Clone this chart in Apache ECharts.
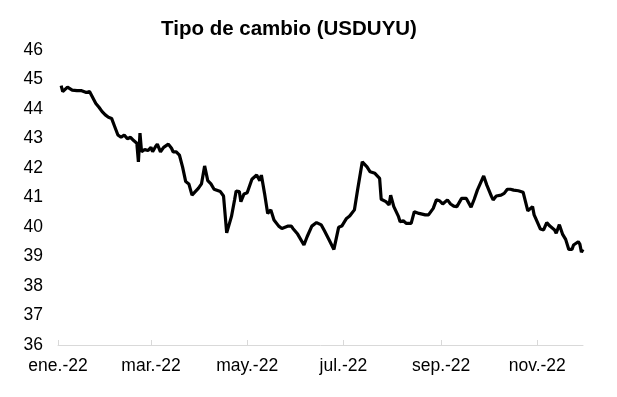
<!DOCTYPE html>
<html>
<head>
<meta charset="utf-8">
<script src="https://cdn.jsdelivr.net/npm/echarts@6/dist/echarts.min.js"></script>
<style>html,body{margin:0;padding:0;background:#fff}#c{width:617px;height:397px}</style>
</head>
<body>
<div id="c"></div>
<script>
const dates = [
'2022-01-03','2022-01-04','2022-01-07','2022-01-10','2022-01-13','2022-01-16','2022-01-17','2022-01-19','2022-01-21','2022-01-22',
'2022-01-25','2022-01-27','2022-01-29','2022-01-31','2022-02-02','2022-02-04','2022-02-06','2022-02-08','2022-02-10','2022-02-12',
'2022-02-14','2022-02-16','2022-02-18','2022-02-20','2022-02-21','2022-02-22','2022-02-23','2022-02-25','2022-02-27','2022-03-01',
'2022-03-02','2022-03-04','2022-03-05','2022-03-07','2022-03-09','2022-03-12','2022-03-14','2022-03-15','2022-03-17','2022-03-19',
'2022-03-21','2022-03-23','2022-03-25','2022-03-27','2022-03-31','2022-04-02','2022-04-04','2022-04-06','2022-04-08','2022-04-10',
'2022-04-14','2022-04-16','2022-04-18','2022-04-21','2022-04-23','2022-04-24','2022-04-26','2022-04-27','2022-04-29','2022-05-01',
'2022-05-04','2022-05-07','2022-05-09','2022-05-10','2022-05-12','2022-05-14','2022-05-16','2022-05-18','2022-05-21','2022-05-23',
'2022-05-25','2022-05-27','2022-05-29','2022-05-30','2022-06-02','2022-06-06','2022-06-08','2022-06-11','2022-06-12','2022-06-14',
'2022-06-17','2022-06-19','2022-06-22','2022-06-25','2022-06-28','2022-06-30','2022-07-03','2022-07-05','2022-07-08','2022-07-10',
'2022-07-13','2022-07-16','2022-07-18','2022-07-21','2022-07-24','2022-07-25','2022-07-28','2022-07-30','2022-07-31','2022-08-02',
'2022-08-05','2022-08-06','2022-08-08','2022-08-10','2022-08-13','2022-08-15','2022-08-18','2022-08-22','2022-08-24','2022-08-27',
'2022-08-29','2022-08-31','2022-09-02','2022-09-05','2022-09-07','2022-09-09','2022-09-11','2022-09-14','2022-09-17','2022-09-18',
'2022-09-20','2022-09-22','2022-09-24','2022-09-25','2022-09-28','2022-09-30','2022-10-03','2022-10-04','2022-10-06','2022-10-09',
'2022-10-11','2022-10-13','2022-10-15','2022-10-17','2022-10-20','2022-10-23','2022-10-26','2022-10-27','2022-10-29','2022-10-30',
'2022-10-31','2022-11-03','2022-11-05','2022-11-07','2022-11-09','2022-11-12','2022-11-13','2022-11-15','2022-11-17','2022-11-19',
'2022-11-21','2022-11-23','2022-11-24','2022-11-27','2022-11-28','2022-11-29','2022-11-30'
];
// USDUYU values
const usduyu = [
44.79,44.59,44.74,44.64,44.62,44.62,44.67,44.56,44.59,44.53,
44.19,44.06,43.91,43.80,43.72,43.68,43.40,43.12,43.04,43.12,
42.99,43.04,42.93,42.84,42.21,43.18,42.55,42.63,42.59,42.70,
42.55,42.74,42.81,42.55,42.70,42.81,42.67,42.55,42.55,42.44,
42.04,41.54,41.46,41.08,41.31,41.46,42.07,41.57,41.46,41.28,
41.20,41.05,39.80,40.35,40.92,41.22,41.20,40.86,41.12,41.16,
41.62,41.76,41.57,41.76,41.14,40.46,40.58,40.24,40.03,39.95,
39.99,40.03,40.03,39.95,39.76,39.39,39.67,40.03,39.99,40.15,
40.07,39.87,39.56,39.24,39.99,40.03,40.29,40.37,40.58,41.25,
42.21,42.04,41.87,41.82,41.65,40.94,40.86,40.75,41.08,40.69,
40.35,40.18,40.21,40.12,40.12,40.52,40.46,40.41,40.41,40.63,
40.92,40.89,40.78,40.92,40.78,40.71,40.69,40.97,40.97,40.92,
40.67,40.94,41.25,41.31,41.73,41.42,41.03,40.92,41.05,41.08,
41.14,41.28,41.28,41.25,41.23,41.18,40.55,40.58,40.69,40.41,
40.29,39.93,39.90,40.15,40.03,39.90,39.79,40.08,39.76,39.58,
39.24,39.24,39.39,39.50,39.42,39.15,39.24
];
const monthLabels = ['ene.','feb.','mar.','abr.','may.','jun.','jul.','ago.','sep.','oct.','nov.','dic.'];
const tickMonths = [0, 2, 4, 6, 8, 10];
const axisStart = '2022-01-01';
const axisEnd = '2022-11-30';

// build daily category axis
const days = [];
for (let t = Date.parse(axisStart + 'T00:00:00Z'); t <= Date.parse(axisEnd + 'T00:00:00Z'); t += 86400000) {
  days.push(new Date(t).toISOString().slice(0, 10));
}
const lookup = {};
dates.forEach((d, i) => { lookup[d] = usduyu[i]; });
const seriesData = days.map(d => (d in lookup ? lookup[d] : null));

function isTick(idx, val) {
  const m = parseInt(val.slice(5, 7), 10) - 1;
  return val.slice(8, 10) === '01' && tickMonths.indexOf(m) >= 0;
}

const FONT = '"Liberation Sans", Arial, sans-serif';
const chart = echarts.init(document.getElementById('c'), null, { renderer: 'canvas' });
chart.setOption({
  animation: false,
  backgroundColor: '#fff',
  title: {
    text: 'Tipo de cambio (USDUYU)',
    left: 284, textAlign: 'center', top: 14,
    textStyle: { fontFamily: FONT, fontWeight: 'bold', fontSize: 20.5, color: '#000' }
  },
  grid: { left: 58, right: 34, top: 50, bottom: 52 },
  xAxis: {
    type: 'category',
    data: days,
    boundaryGap: false,
    axisLine: { lineStyle: { color: '#d9d9d9', width: 1 } },
    axisTick: { inside: true, length: 5, interval: isTick, lineStyle: { color: '#d9d9d9' } },
    axisLabel: {
      interval: isTick, margin: 12, fontFamily: FONT, fontSize: 17.5, color: '#000',
      formatter: v => monthLabels[parseInt(v.slice(5, 7), 10) - 1] + '-' + v.slice(2, 4)
    },
    splitLine: { show: false }
  },
  yAxis: {
    type: 'value', min: 36, max: 46, interval: 1,
    axisLine: { show: false }, axisTick: { show: false }, splitLine: { show: false },
    axisLabel: { margin: 15, fontFamily: FONT, fontSize: 17.5, color: '#000' }
  },
  series: [{
    type: 'line', data: seriesData, connectNulls: true, showSymbol: false,
    lineStyle: { color: '#000', width: 3.2 }, itemStyle: { color: '#000' }
  }]
});
</script>
</body>
</html>
